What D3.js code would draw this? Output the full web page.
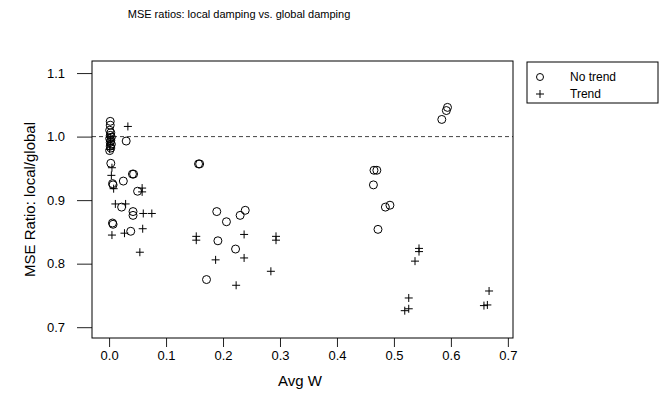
<!DOCTYPE html>
<html>
<head>
<meta charset="utf-8">
<script src="https://cdn.jsdelivr.net/npm/d3@7"></script>
<style>
  body { margin: 0; background: #fff; }
  text { font-family: "Liberation Sans", Arial, sans-serif; fill: #000; }
</style>
</head>
<body>
<div id="chart"></div>
<script>
// data: [Avg W, MSE ratio]
const noTrend = [
  [0.002, 1.024], [0.002, 1.018], [0.001, 1.010], [0.003, 1.006], [0.002, 1.002],
  [0.004, 0.999], [0.001, 0.997], [0.003, 0.994], [0.002, 0.991], [0.004, 0.988],
  [0.002, 0.985], [0.003, 0.982], [0.001, 0.978], [0.030, 0.993], [0.003, 0.958],
  [0.157, 0.957], [0.159, 0.957], [0.043, 0.941], [0.041, 0.941], [0.025, 0.930],
  [0.006, 0.926], [0.007, 0.924], [0.050, 0.914], [0.022, 0.889], [0.042, 0.882],
  [0.042, 0.876], [0.006, 0.864], [0.007, 0.862], [0.038, 0.851], [0.189, 0.882],
  [0.206, 0.866], [0.230, 0.876], [0.239, 0.884], [0.191, 0.836], [0.222, 0.823],
  [0.171, 0.775], [0.465, 0.947], [0.470, 0.947], [0.464, 0.924], [0.485, 0.889],
  [0.493, 0.892], [0.472, 0.854], [0.584, 1.027], [0.592, 1.041], [0.594, 1.046]
];
const trend = [
  [0.002, 0.999], [0.003, 0.993], [0.002, 0.987], [0.001, 0.980], [0.033, 1.016],
  [0.005, 0.951], [0.004, 0.939], [0.008, 0.918], [0.058, 0.919], [0.058, 0.913],
  [0.011, 0.894], [0.029, 0.894], [0.060, 0.879], [0.075, 0.879], [0.005, 0.845],
  [0.027, 0.848], [0.059, 0.855], [0.054, 0.818], [0.153, 0.843], [0.153, 0.837],
  [0.237, 0.846], [0.293, 0.843], [0.293, 0.837], [0.237, 0.809], [0.187, 0.806],
  [0.284, 0.788], [0.223, 0.766], [0.544, 0.824], [0.544, 0.819], [0.537, 0.804],
  [0.526, 0.746], [0.519, 0.726], [0.526, 0.729], [0.667, 0.757], [0.658, 0.734],
  [0.664, 0.735]
];
const xTicks = [0, 0.1, 0.2, 0.3, 0.4, 0.5, 0.6, 0.7];
const yTicks = [0.7, 0.8, 0.9, 1.0, 1.1];
const legendLabels = ["No trend", "Trend"];

//Setting the dimensions and margins
const margin = {top: 61, right: 150, bottom: 62, left: 92},
    width = 663 - margin.left - margin.right,
    height = 400 - margin.top - margin.bottom;

const svg = d3.select("#chart")
    .append("svg")
    .attr("width", 663)
    .attr("height", 400);

const g = svg.append("g")
    .attr("transform", `translate(${margin.left},${margin.top})`);

//Scales
const x = d3.scaleLinear().domain([-0.03, 0.709]).range([0, width]);
const y = d3.scaleLinear().domain([0.683, 1.119]).range([height, 0]);

//Axes
const xAxis = g.append("g")
    .attr("transform", `translate(0, ${height})`)
    .call(d3.axisBottom(x).tickValues(xTicks).tickFormat(d3.format(".1f")).tickSize(9).tickPadding(4));
xAxis.select(".domain").remove();
xAxis.selectAll("text").style("font-size", "13px").style("font-family", "Liberation Sans, Arial, sans-serif");

const yAxis = g.append("g")
    .call(d3.axisLeft(y).tickValues(yTicks).tickFormat(d3.format(".1f")).tickSize(15).tickPadding(12));
yAxis.select(".domain").remove();
yAxis.selectAll("text").style("font-size", "13px").style("font-family", "Liberation Sans, Arial, sans-serif");
g.selectAll(".tick line").attr("stroke", "#222");

//Reference line at 1
g.append("line")
    .attr("x1", 0).attr("x2", width)
    .attr("y1", y(1)).attr("y2", y(1))
    .attr("stroke", "#444")
    .attr("stroke-dasharray", "4,3");

//Plot box
g.append("rect")
    .attr("width", width).attr("height", height)
    .attr("fill", "none").attr("stroke", "#000");

//Points
const plusPath = "M-4,0H4M0,-4V4";
g.append("g").selectAll("circle")
    .data(noTrend)
    .join("circle")
    .attr("cx", d => x(d[0]))
    .attr("cy", d => y(d[1]))
    .attr("r", 4)
    .attr("fill", "none")
    .attr("stroke", "#000")
    .attr("stroke-width", 1);

g.append("g").selectAll("path")
    .data(trend)
    .join("path")
    .attr("transform", d => `translate(${x(d[0])},${y(d[1])})`)
    .attr("d", plusPath)
    .attr("stroke", "#000")
    .attr("stroke-width", 1);

//Title and labels
svg.append("text")
    .attr("x", 239).attr("y", 18)
    .attr("text-anchor", "middle")
    .style("font-size", "11px")
    .text("MSE ratios: local damping vs. global damping");

svg.append("text")
    .attr("x", 300).attr("y", 386)
    .attr("text-anchor", "middle")
    .style("font-size", "15px")
    .text("Avg W");

svg.append("text")
    .attr("transform", `translate(35, ${margin.top + height / 2}) rotate(-90)`)
    .attr("text-anchor", "middle")
    .style("font-size", "15px")
    .text("MSE Ratio: local/global");

//Legend
const legend = svg.append("g").attr("transform", "translate(527, 62)");
legend.append("rect")
    .attr("width", 131).attr("height", 41)
    .attr("fill", "none").attr("stroke", "#000");
legend.append("circle")
    .attr("cx", 13).attr("cy", 15).attr("r", 3.5)
    .attr("fill", "none").attr("stroke", "#000");
legend.append("path")
    .attr("transform", "translate(13, 32)")
    .attr("d", plusPath)
    .attr("stroke", "#000");
legend.selectAll("text.lab")
    .data(legendLabels)
    .join("text")
    .attr("class", "lab")
    .attr("x", 43)
    .attr("y", (d, i) => 15 + i * 17)
    .attr("dy", "0.35em")
    .style("font-size", "12px")
    .text(d => d);
</script>
</body>
</html>
